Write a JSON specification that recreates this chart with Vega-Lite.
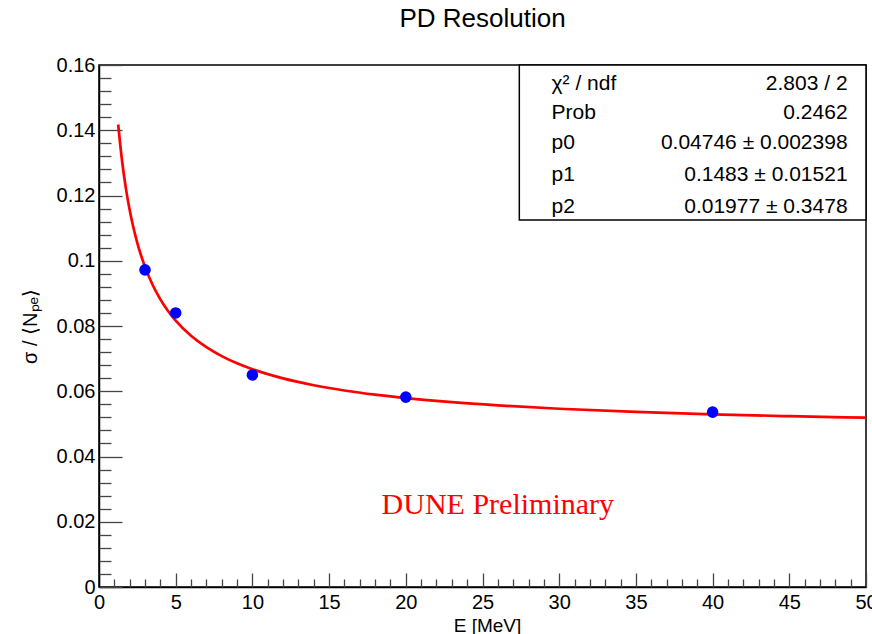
{
  "$schema": "https://vega.github.io/schema/vega-lite/v6.json",
  "width": 767,
  "height": 522,
  "autosize": {"type": "none"},
  "padding": {"left": 99, "top": 65, "right": 6, "bottom": 47},
  "config": {
    "font": "Liberation Sans",
    "view": {"stroke": "black", "strokeWidth": 1.5},
    "axis": {"grid": false}
  },
  "title": {
    "text": "PD Resolution",
    "fontSize": 26,
    "fontWeight": "normal",
    "font": "Liberation Sans",
    "color": "black",
    "anchor": "middle",
    "offset": 23
  },
  "layer": [
    {
      "data": {"values": [
        {"E": 1.25, "sigma": 0.14176},
        {"E": 1.5, "sigma": 0.13072},
        {"E": 1.75, "sigma": 0.12226},
        {"E": 2, "sigma": 0.11553},
        {"E": 2.25, "sigma": 0.11002},
        {"E": 2.5, "sigma": 0.10541},
        {"E": 3, "sigma": 0.09812},
        {"E": 3.5, "sigma": 0.09256},
        {"E": 4, "sigma": 0.08818},
        {"E": 4.5, "sigma": 0.08461},
        {"E": 5, "sigma": 0.08165},
        {"E": 6, "sigma": 0.077},
        {"E": 7, "sigma": 0.0735},
        {"E": 8, "sigma": 0.07077},
        {"E": 9, "sigma": 0.06856},
        {"E": 10, "sigma": 0.06675},
        {"E": 12, "sigma": 0.06394},
        {"E": 14, "sigma": 0.06185},
        {"E": 16, "sigma": 0.06024},
        {"E": 18, "sigma": 0.05895},
        {"E": 20, "sigma": 0.05791},
        {"E": 23, "sigma": 0.05665},
        {"E": 26, "sigma": 0.05567},
        {"E": 30, "sigma": 0.05464},
        {"E": 35, "sigma": 0.05368},
        {"E": 40, "sigma": 0.05294},
        {"E": 45, "sigma": 0.05236},
        {"E": 50, "sigma": 0.05189}
      ]},
      "mark": {"type": "line", "color": "#ff0000", "strokeWidth": 2.7, "interpolate": "monotone", "clip": true},
      "encoding": {
        "x": {
          "field": "E", "type": "quantitative",
          "scale": {"domain": [0, 50], "nice": false, "zero": false},
          "axis": {
            "orient": "bottom",
            "values": [0, 5, 10, 15, 20, 25, 30, 35, 40, 45, 50],
            "ticks": false, "domain": true, "domainColor": "black", "domainWidth": 1.5,
            "labelFontSize": 20, "labelColor": "black", "labelPadding": 5, "labelFlush": false,
            "labelFont": "Liberation Sans",
            "title": "E [MeV]", "titleFontSize": 19, "titleFontWeight": "normal", "titleColor": "black",
            "titleFont": "Liberation Sans",
            "titleX": 388, "titleY": 29, "titleAlign": "center", "titleBaseline": "top", "titleAnchor": null
          }
        },
        "y": {
          "field": "sigma", "type": "quantitative",
          "scale": {"domain": [0, 0.16], "nice": false, "zero": false},
          "axis": {
            "orient": "left",
            "values": [0, 0.02, 0.04, 0.06, 0.08, 0.1, 0.12, 0.14, 0.16],
            "ticks": false, "domain": true, "domainColor": "black", "domainWidth": 1.5,
            "labelFontSize": 20, "labelColor": "black", "labelPadding": 4, "labelFlush": false,
            "labelFont": "Liberation Sans",
            "labelExpr": "datum.value == 0 ? '0' : format(datum.value, '.2~f')",
            "title": "σ / ⟨Nₚₑ⟩", "titleFontSize": 20, "titleFontWeight": "normal", "titleColor": "black",
            "titleFont": "Liberation Sans",
            "titleX": -69, "titleY": 261, "titleAngle": -90, "titleAlign": "center", "titleBaseline": "middle"
          }
        }
      }
    },
    {
      "data": {"values": [
        {"E": 3, "sigma": 0.0972},
        {"E": 5, "sigma": 0.084},
        {"E": 10, "sigma": 0.065},
        {"E": 20, "sigma": 0.0582},
        {"E": 40, "sigma": 0.0536}
      ]},
      "mark": {"type": "circle", "color": "#0000ff", "opacity": 1, "size": 135},
      "encoding": {
        "x": {
          "field": "E", "type": "quantitative",
          "axis": {
            "orient": "bottom",
            "values": [0, 5, 10, 15, 20, 25, 30, 35, 40, 45, 50],
            "labels": false, "domain": false, "title": null,
            "ticks": true, "tickSize": -14, "tickColor": "#444", "tickWidth": 1.3
          }
        },
        "y": {
          "field": "sigma", "type": "quantitative",
          "axis": {
            "orient": "left",
            "values": [0, 0.02, 0.04, 0.06, 0.08, 0.1, 0.12, 0.14, 0.16],
            "labels": false, "domain": false, "title": null,
            "ticks": true, "tickSize": -23, "tickColor": "#444", "tickWidth": 1.3
          }
        }
      }
    },
    {
      "data": {"values": [
        {"x": 27.4, "x2": 50, "y": 0.1125, "y2": 0.16}
      ]},
      "mark": {"type": "rect", "fill": "white", "stroke": "black", "strokeWidth": 1.5},
      "encoding": {
        "x": {
          "field": "x", "type": "quantitative",
          "axis": {
            "orient": "bottom",
            "values": [1, 2, 3, 4, 6, 7, 8, 9, 11, 12, 13, 14, 16, 17, 18, 19, 21, 22, 23, 24, 26, 27, 28, 29, 31, 32, 33, 34, 36, 37, 38, 39, 41, 42, 43, 44, 46, 47, 48, 49],
            "labels": false, "domain": false, "title": null,
            "ticks": true, "tickSize": -8, "tickColor": "#444", "tickWidth": 1.3
          }
        },
        "x2": {"field": "x2"},
        "y": {
          "field": "y", "type": "quantitative",
          "axis": {
            "orient": "left",
            "values": [0.004, 0.008, 0.012, 0.016, 0.024, 0.028, 0.032, 0.036, 0.044, 0.048, 0.052, 0.056, 0.064, 0.068, 0.072, 0.076, 0.084, 0.088, 0.092, 0.096, 0.104, 0.108, 0.112, 0.116, 0.124, 0.128, 0.132, 0.136, 0.144, 0.148, 0.152, 0.156],
            "labels": false, "domain": false, "title": null,
            "ticks": true, "tickSize": -12, "tickColor": "#444", "tickWidth": 1.3
          }
        },
        "y2": {"field": "y2"}
      }
    },
    {
      "data": {"values": [
        {"label": "χ² / ndf", "value": "2.803 / 2", "y": 0.1542},
        {"label": "Prob", "value": "0.2462", "y": 0.1453},
        {"label": "p0", "value": "0.04746 ± 0.002398", "y": 0.1361},
        {"label": "p1", "value": "0.1483 ± 0.01521", "y": 0.1263},
        {"label": "p2", "value": "0.01977 ± 0.3478", "y": 0.1165}
      ]},
      "layer": [
        {
          "mark": {"type": "text", "align": "left", "baseline": "middle", "fontSize": 21, "color": "black", "font": "Liberation Sans"},
          "encoding": {
            "x": {"datum": 29.5, "type": "quantitative", "axis": null},
            "y": {"field": "y", "type": "quantitative", "axis": null},
            "text": {"field": "label"}
          }
        },
        {
          "mark": {"type": "text", "align": "right", "baseline": "middle", "fontSize": 21, "color": "black", "font": "Liberation Sans"},
          "encoding": {
            "x": {"datum": 48.8, "type": "quantitative", "axis": null},
            "y": {"field": "y", "type": "quantitative", "axis": null},
            "text": {"field": "value"}
          }
        }
      ]
    },
    {
      "data": {"values": [{"label": "DUNE  Preliminary", "E": 26.0, "sigma": 0.0224}]},
      "mark": {"type": "text", "align": "center", "baseline": "alphabetic", "fontSize": 30, "color": "#ff0000", "font": "Liberation Serif"},
      "encoding": {
        "x": {"field": "E", "type": "quantitative", "axis": null},
        "y": {"field": "sigma", "type": "quantitative", "axis": null},
        "text": {"field": "label"}
      }
    }
  ],
  "resolve": {"axis": {"x": "independent", "y": "independent"}}
}
